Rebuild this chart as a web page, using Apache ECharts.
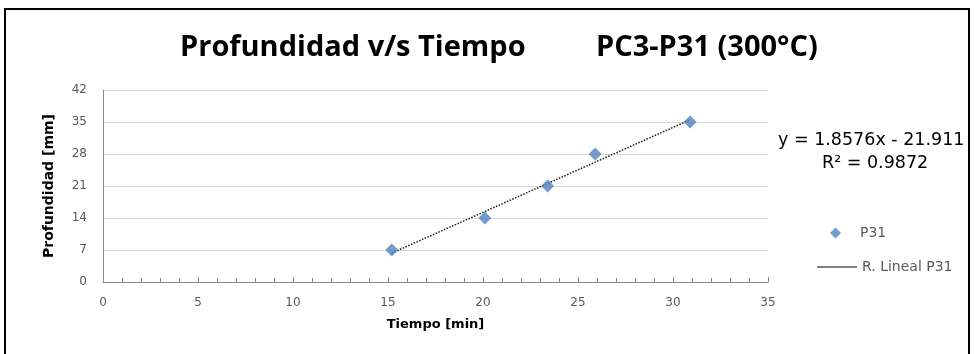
<!DOCTYPE html>
<html>
<head>
<meta charset="utf-8">
<script src="https://cdn.jsdelivr.net/npm/echarts@6/dist/echarts.min.js"></script>
<style>
html,body{margin:0;padding:0;background:#fff;}
#chart{width:974px;height:354px;}
</style>
</head>
<body>
<div id="chart"></div>
<script>
// ---- data ----
var tiempo = [15.2, 20.1, 23.4, 25.9, 30.9];
var profundidad = [7, 14, 21, 28, 35];
var seriesName = 'P31';
var trendName = 'R. Lineal P31';
var titleLeft = 'Profundidad v/s Tiempo';
var titleRight = 'PC3-P31 (300°C)';
var xAxisName = 'Tiempo [min]';
var yAxisName = 'Profundidad [mm]';
var eqText = 'y = 1.8576x - 21.911';
var r2Text = 'R² = 0.9872';
var xTicks = [0, 5, 10, 15, 20, 25, 30, 35];
var yTicks = [0, 7, 14, 21, 28, 35, 42];

// linear regression from the data
var n = tiempo.length, mx = 0, my = 0;
for (var i = 0; i < n; i++) { mx += tiempo[i]; my += profundidad[i]; }
mx /= n; my /= n;
var sxy = 0, sxx = 0;
for (var i = 0; i < n; i++) { sxy += (tiempo[i]-mx)*(profundidad[i]-my); sxx += (tiempo[i]-mx)*(tiempo[i]-mx); }
var slope = sxy / sxx, intercept = my - slope * mx;
var xMin = Math.min.apply(null, tiempo), xMax = Math.max.apply(null, tiempo);
var trend = [[xMin, slope*xMin+intercept], [xMax, slope*xMax+intercept]];

var FONT = 'DejaVu Sans';
var TFONT = 'Open Sans';
var chart = echarts.init(document.getElementById('chart'), null, {renderer: 'canvas'});
chart.setOption({
  animation: false,
  backgroundColor: '#ffffff',
  title: [
    {text: titleLeft, left: 180, top: 33, padding: 0, textStyle: {fontFamily: TFONT, fontWeight: 'bold', fontSize: 29, color: '#000'}},
    {text: titleRight, left: 596, top: 33, padding: 0, textStyle: {fontFamily: TFONT, fontWeight: 'bold', fontSize: 29, color: '#000'}}
  ],
  grid: {left: 103, right: 206, top: 90, bottom: 72, containLabel: false},
  xAxis: {
    type: 'value', min: xTicks[0], max: xTicks[xTicks.length-1], interval: 5,
    name: xAxisName, nameLocation: 'middle', nameGap: 36,
    nameTextStyle: {fontFamily: FONT, fontWeight: 'bold', fontSize: 13, color: '#000'},
    axisLine: {show: true, lineStyle: {color: '#868686', width: 1}},
    axisTick: {show: true, inside: true, length: 5, lineStyle: {color: '#868686'}},
    minorTick: {show: true, splitNumber: 5, length: 4, lineStyle: {color: '#868686'}},
    axisLabel: {fontFamily: FONT, fontSize: 12, color: '#595959', margin: 15},
    splitLine: {show: false}
  },
  yAxis: {
    type: 'value', min: yTicks[0], max: yTicks[yTicks.length-1], interval: 7,
    name: yAxisName, nameLocation: 'middle', nameGap: 47, nameRotate: 90,
    nameTextStyle: {fontFamily: FONT, fontWeight: 'bold', fontSize: 14, color: '#000'},
    axisLine: {show: true, lineStyle: {color: '#868686', width: 1}},
    axisTick: {show: false},
    axisLabel: {fontFamily: FONT, fontSize: 12, color: '#595959', margin: 16},
    splitLine: {show: true, lineStyle: {color: '#d9d9d9', width: 1}}
  },
  legend: [
    {data: [{name: seriesName, icon: 'diamond'}], left: 830, top: 226, padding: 0, itemWidth: 11, itemHeight: 11,
     textStyle: {fontFamily: FONT, fontSize: 14, color: '#595959', padding: [0, 0, 0, 14]}},
    {data: [{name: trendName, icon: 'rect'}], left: 817, top: 260, padding: 0, itemWidth: 40, itemHeight: 1.2,
     itemStyle: {color: '#000'},
     textStyle: {fontFamily: FONT, fontSize: 14, color: '#595959'}}
  ],
  series: [
    {name: trendName, type: 'line', data: trend, symbol: 'none', z: 2,
     itemStyle: {color: '#1a1a1a'},
     lineStyle: {color: '#1a1a1a', width: 1.5, type: 'dotted'}},
    {name: seriesName, type: 'scatter', data: tiempo.map(function(x, i){return [x, profundidad[i]];}),
     symbol: 'diamond', symbolSize: 13, z: 3, itemStyle: {color: '#4f81bd'}}
  ],
  graphic: [
    {type: 'rect', shape: {x: 5, y: 9, width: 964, height: 360}, style: {fill: 'none', stroke: '#000', lineWidth: 2}},
    {type: 'text', left: 778, top: 131, style: {text: eqText, fontFamily: FONT, fontSize: 17.5, fill: '#000'}},
    {type: 'text', left: 822, top: 154, style: {text: r2Text, fontFamily: FONT, fontSize: 17.5, fill: '#000'}}
  ]
});
</script>
</body>
</html>
